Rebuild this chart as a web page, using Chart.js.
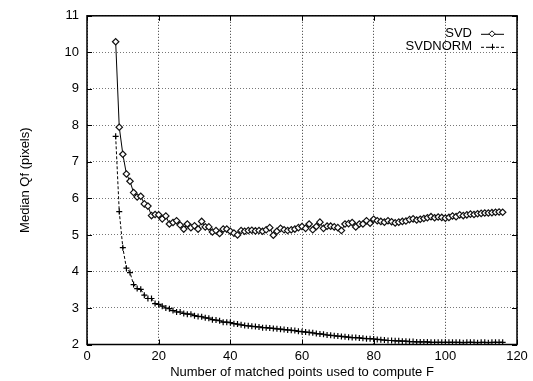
<!DOCTYPE html>
<html>
<head>
<meta charset="utf-8">
<script src="https://cdn.jsdelivr.net/npm/chart.js@4"></script>
<style>
  html, body { margin: 0; padding: 0; background: #fff; }
  #wrap { width: 533px; height: 381px; }
</style>
</head>
<body>
<div id="wrap"><canvas id="canvas1" width="533" height="381"></canvas></div>
<script>
// number of matched points (x)
var xStart = 8;
var xEnd = 116;

var svd = [
  10.29, 7.95, 7.21, 6.67, 6.47, 6.16, 6.04, 6.06, 5.85, 5.79,
  5.53, 5.56, 5.55, 5.44, 5.52, 5.30, 5.34, 5.39, 5.27, 5.16,
  5.30, 5.20, 5.25, 5.16, 5.37, 5.22, 5.22, 5.08, 5.12, 5.04,
  5.16, 5.16, 5.10, 5.05, 5.00, 5.12, 5.10, 5.12, 5.13, 5.11,
  5.12, 5.10, 5.14, 5.20, 4.99, 5.10, 5.18, 5.14, 5.12, 5.14,
  5.16, 5.20, 5.23, 5.18, 5.30, 5.14, 5.23, 5.35, 5.18, 5.24,
  5.24, 5.22, 5.20, 5.12, 5.30, 5.31, 5.34, 5.22, 5.30, 5.30,
  5.39, 5.32, 5.43, 5.39, 5.37, 5.35, 5.39, 5.36, 5.33, 5.35,
  5.37, 5.38, 5.42, 5.44, 5.41, 5.43, 5.45, 5.47, 5.50, 5.47,
  5.49, 5.48, 5.46, 5.48, 5.52, 5.50, 5.55, 5.53, 5.55, 5.57,
  5.56, 5.58, 5.59, 5.60, 5.60, 5.61, 5.62, 5.63, 5.62
];

var svdnorm = [
  7.70, 5.64, 4.65, 4.09, 3.97, 3.64, 3.53, 3.51, 3.35, 3.26,
  3.26, 3.12, 3.10, 3.05, 3.00, 2.98, 2.93, 2.89, 2.89, 2.85,
  2.83, 2.83, 2.79, 2.77, 2.76, 2.73, 2.72, 2.68, 2.67, 2.65,
  2.61, 2.61, 2.60, 2.57, 2.56, 2.54, 2.52, 2.51, 2.50, 2.49,
  2.48, 2.46, 2.46, 2.45, 2.44, 2.43, 2.42, 2.41, 2.40, 2.39,
  2.38, 2.36, 2.35, 2.34, 2.33, 2.32, 2.30, 2.29, 2.28, 2.26,
  2.25, 2.24, 2.23, 2.22, 2.21, 2.20, 2.19, 2.19, 2.18, 2.17,
  2.16, 2.16, 2.15, 2.14, 2.13, 2.12, 2.11, 2.11, 2.10, 2.10,
  2.09, 2.09, 2.08, 2.08, 2.07, 2.07, 2.07, 2.07, 2.06, 2.06,
  2.06, 2.06, 2.06, 2.06, 2.06, 2.06, 2.06, 2.05, 2.06, 2.06,
  2.06, 2.05, 2.06, 2.06, 2.05, 2.06, 2.06, 2.06, 2.06
];

var seriesNames = ['SVD', 'SVDNORM'];
var xTitle = 'Number of matched points used to compute F';
var yTitle = 'Median Qf (pixels)';

function toPoints(vals) {
  var pts = [];
  for (var i = 0; i < vals.length; i++) {
    pts.push({ x: xStart + i, y: vals[i] });
  }
  return pts;
}

var FONT = 'Liberation Sans, Arial, Helvetica, sans-serif';

// gnuplot style frame: full box with inward tick marks
var framePlugin = {
  id: 'frame',
  afterDatasetsDraw: function(chart) {
    var ctx = chart.ctx, a = chart.chartArea;
    var xs = chart.scales.x, ys = chart.scales.y;
    ctx.save();
    ctx.strokeStyle = '#000';
    ctx.lineWidth = 1;
    ctx.beginPath();
    xs.ticks.forEach(function(t) {
      var px = Math.round(xs.getPixelForValue(t.value)) + 0.5;
      ctx.moveTo(px, a.bottom); ctx.lineTo(px, a.bottom - 5);
      ctx.moveTo(px, a.top); ctx.lineTo(px, a.top + 5);
    });
    ys.ticks.forEach(function(t) {
      var py = Math.round(ys.getPixelForValue(t.value)) + 0.5;
      ctx.moveTo(a.left, py); ctx.lineTo(a.left + 5, py);
      ctx.moveTo(a.right, py); ctx.lineTo(a.right - 5, py);
    });
    ctx.stroke();
    ctx.lineWidth = 1.5;
    ctx.strokeRect(a.left, a.top, a.right - a.left, a.bottom - a.top);
    ctx.restore();
  }
};

// legend in the upper right corner, inside the plot
var keyPlugin = {
  id: 'key',
  afterDraw: function(chart) {
    var ctx = chart.ctx, a = chart.chartArea;
    ctx.save();
    ctx.font = '13px ' + FONT;
    ctx.textAlign = 'right';
    ctx.textBaseline = 'middle';
    chart.data.datasets.forEach(function(ds, i) {
      var y = a.top + 18 + i * 13;
      var textX = a.right - 45;
      ctx.fillStyle = '#000';
      ctx.fillText(ds.label, textX, y);
      ctx.strokeStyle = '#000';
      ctx.lineWidth = 1;
      ctx.setLineDash(ds.borderDash || []);
      ctx.beginPath();
      ctx.moveTo(a.right - 36, y + 0.5);
      ctx.lineTo(a.right - 13, y + 0.5);
      ctx.stroke();
      ctx.setLineDash([]);
      var cx = a.right - 25;
      ctx.beginPath();
      if (ds.pointStyle === 'rectRot') {
        ctx.moveTo(cx, y - 3); ctx.lineTo(cx + 3, y); ctx.lineTo(cx, y + 3); ctx.lineTo(cx - 3, y); ctx.closePath();
        ctx.fillStyle = '#fff';
        ctx.fill();
      } else {
        ctx.moveTo(cx - 3, y + 0.5); ctx.lineTo(cx + 3, y + 0.5);
        ctx.moveTo(cx + 0.5, y - 3); ctx.lineTo(cx + 0.5, y + 3);
      }
      ctx.stroke();
    });
    ctx.restore();
  }
};

var config1 = {
  type: 'line',
  data: {
    datasets: [
      {
        label: seriesNames[0],
        data: toPoints(svd),
        borderColor: '#000',
        borderWidth: 1,
        backgroundColor: '#fff',
        pointStyle: 'rectRot',
        pointRadius: 3.2,
        pointBorderWidth: 1.2,
        pointBorderColor: '#111',
        pointBackgroundColor: '#fff',
        tension: 0
      },
      {
        label: seriesNames[1],
        data: toPoints(svdnorm),
        borderColor: '#000',
        borderWidth: 1,
        borderDash: [3, 2],
        pointStyle: 'cross',
        pointRadius: 3,
        pointBorderWidth: 1.2,
        pointBorderColor: '#000',
        tension: 0
      }
    ]
  },
  options: {
    responsive: false,
    animation: false,
    layout: { padding: { top: 15, right: 16, left: 0, bottom: 0 } },
    plugins: {
      legend: { display: false },
      tooltip: { enabled: false }
    },
    scales: {
      x: {
        type: 'linear',
        min: 0,
        max: 120,
        ticks: { stepSize: 20, color: '#000', padding: 4, font: { family: FONT, size: 13 } },
        grid: { color: '#333', drawTicks: false },
        border: { display: false, dash: [1, 2] },
        title: { display: true, text: xTitle, color: '#000', padding: { top: 0, bottom: 1 }, font: { family: FONT, size: 13 } },
        afterFit: function(s) { s.height = 36.5; }
      },
      y: {
        min: 2,
        max: 11,
        ticks: { stepSize: 1, color: '#000', padding: 8, font: { family: FONT, size: 13 } },
        grid: { color: '#777', drawTicks: false },
        border: { display: false, dash: [1, 2] },
        title: { display: true, text: yTitle, color: '#000', padding: { top: 18, bottom: 0 }, font: { family: FONT, size: 13 } },
        afterFit: function(s) { s.width = 87; }
      }
    }
  },
  plugins: [framePlugin, keyPlugin]
};

window.onload = function() {
  var ctx1 = document.getElementById('canvas1').getContext('2d');
  window.myLine = new Chart(ctx1, config1);
};
</script>
</body>
</html>
